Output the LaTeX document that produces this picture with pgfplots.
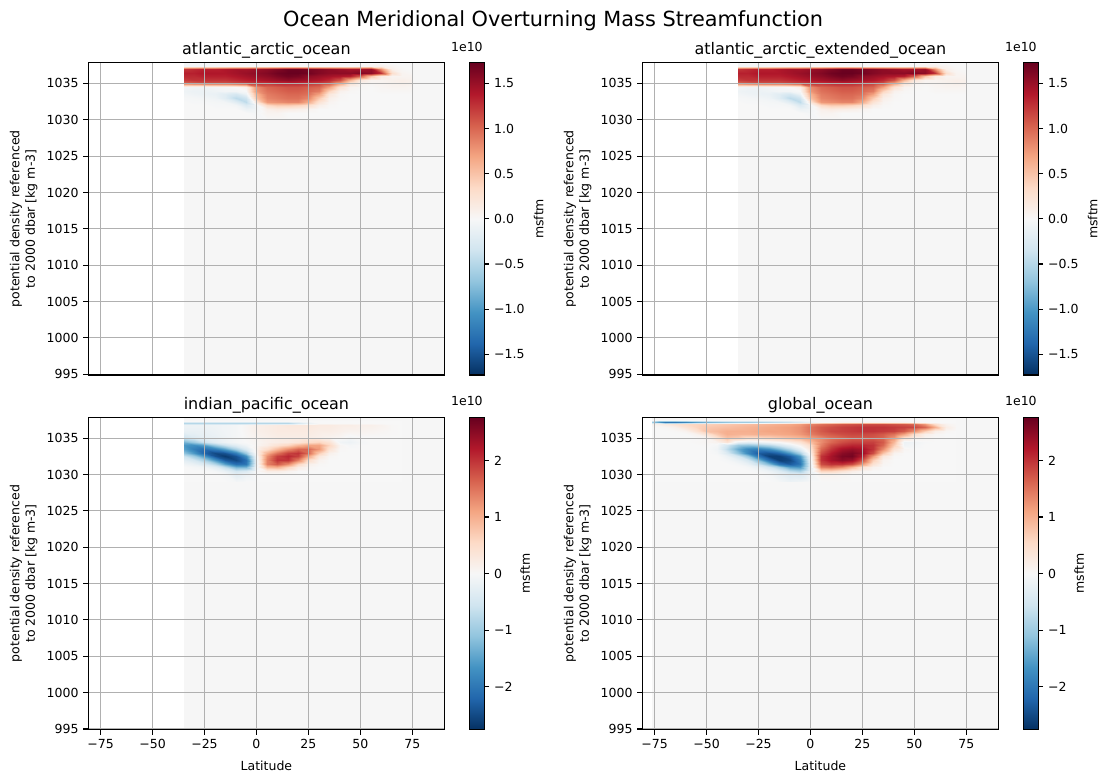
\documentclass[border=0pt]{standalone}
\usepackage{fontspec}
\setmainfont{DejaVu Sans}
\usepackage{pgfplots}
\usepackage{pgfplotstable}
\pgfplotsset{compat=1.18}
\definecolor{bggray}{RGB}{246,246,246}
\definecolor{gridgray}{RGB}{176,176,176}
\pgfplotsset{
  colormap={rdbu}{rgb255=(5,48,97) rgb255=(33,102,172) rgb255=(67,147,195) rgb255=(146,197,222) rgb255=(209,229,240) rgb255=(247,247,247) rgb255=(253,219,199) rgb255=(244,165,130) rgb255=(214,96,77) rgb255=(178,24,43) rgb255=(103,0,31)},
}
% Atlantic (used for atlantic_arctic and atlantic_arctic_extended)
\pgfplotstableread[row sep=\\]{x y z\\
-35 1030 0\\-30 1030 0\\-25 1030 0\\-20 1030 0\\-15 1030 0\\-10 1030 0\\-5 1030 0\\0 1030 0\\5 1030 0\\10 1030 0\\15 1030 0\\20 1030 0\\25 1030 0\\30 1030 0\\35 1030 0\\40 1030 0\\45 1030 0\\50 1030 0\\55 1030 0\\60 1030 0\\65 1030 0\\70 1030 0\\75 1030 0\\
-35 1031 0\\-30 1031 0\\-25 1031 0\\-20 1031 0\\-15 1031 0\\-10 1031 0\\-5 1031 0\\0 1031 -0.03\\5 1031 0.05\\10 1031 0.05\\15 1031 0\\20 1031 0\\25 1031 0\\30 1031 0\\35 1031 0\\40 1031 0\\45 1031 0\\50 1031 0\\55 1031 0\\60 1031 0\\65 1031 0\\70 1031 0\\75 1031 0\\
-35 1031.5 0\\-30 1031.5 0\\-25 1031.5 0\\-20 1031.5 0\\-15 1031.5 0\\-10 1031.5 0\\-5 1031.5 -0.1\\0 1031.5 -0.05\\5 1031.5 0.1\\10 1031.5 0.15\\15 1031.5 0.12\\20 1031.5 0.1\\25 1031.5 0.05\\30 1031.5 0\\35 1031.5 0\\40 1031.5 0\\45 1031.5 0\\50 1031.5 0\\55 1031.5 0\\60 1031.5 0\\65 1031.5 0\\70 1031.5 0\\75 1031.5 0\\
-35 1032 0\\-30 1032 0\\-25 1032 0\\-20 1032 -0.02\\-15 1032 -0.02\\-10 1032 -0.05\\-5 1032 -0.25\\0 1032 -0.05\\5 1032 0.35\\10 1032 0.45\\15 1032 0.45\\20 1032 0.4\\25 1032 0.3\\30 1032 0.1\\35 1032 0.02\\40 1032 0\\45 1032 0\\50 1032 0\\55 1032 0\\60 1032 0\\65 1032 0\\70 1032 0\\75 1032 0\\
-35 1032.5 0\\-30 1032.5 -0.02\\-25 1032.5 -0.02\\-20 1032.5 -0.03\\-15 1032.5 -0.05\\-10 1032.5 -0.2\\-5 1032.5 -0.45\\0 1032.5 0.2\\5 1032.5 0.75\\10 1032.5 0.8\\15 1032.5 0.85\\20 1032.5 0.85\\25 1032.5 0.65\\30 1032.5 0.25\\35 1032.5 0.05\\40 1032.5 0\\45 1032.5 0\\50 1032.5 0\\55 1032.5 0\\60 1032.5 0\\65 1032.5 0\\70 1032.5 0\\75 1032.5 0\\
-35 1033 -0.02\\-30 1033 -0.03\\-25 1033 -0.05\\-20 1033 -0.08\\-15 1033 -0.2\\-10 1033 -0.45\\-5 1033 -0.35\\0 1033 0.5\\5 1033 0.85\\10 1033 0.9\\15 1033 0.95\\20 1033 0.95\\25 1033 0.85\\30 1033 0.45\\35 1033 0.1\\40 1033 0.02\\45 1033 0\\50 1033 0\\55 1033 0\\60 1033 0\\65 1033 0\\70 1033 0\\75 1033 0\\
-35 1033.5 -0.05\\-30 1033.5 -0.08\\-25 1033.5 -0.1\\-20 1033.5 -0.12\\-15 1033.5 -0.2\\-10 1033.5 -0.3\\-5 1033.5 -0.1\\0 1033.5 0.6\\5 1033.5 0.9\\10 1033.5 0.95\\15 1033.5 1\\20 1033.5 1\\25 1033.5 0.95\\30 1033.5 0.7\\35 1033.5 0.2\\40 1033.5 0.03\\45 1033.5 0\\50 1033.5 0\\55 1033.5 0\\60 1033.5 0\\65 1033.5 0\\70 1033.5 0\\75 1033.5 0\\
-35 1034 -0.08\\-30 1034 -0.1\\-25 1034 -0.1\\-20 1034 -0.08\\-15 1034 -0.05\\-10 1034 -0.05\\-5 1034 0\\0 1034 0.75\\5 1034 0.95\\10 1034 1\\15 1034 1.05\\20 1034 1.05\\25 1034 1\\30 1034 0.9\\35 1034 0.4\\40 1034 0.08\\45 1034 0.02\\50 1034 0\\55 1034 0\\60 1034 0.02\\65 1034 0.02\\70 1034 0.02\\75 1034 0.02\\
-35 1034.5 -0.05\\-30 1034.5 -0.08\\-25 1034.5 -0.08\\-20 1034.5 -0.05\\-15 1034.5 -0.03\\-10 1034.5 0\\-5 1034.5 0.1\\0 1034.5 0.8\\5 1034.5 1\\10 1034.5 1.05\\15 1034.5 1.1\\20 1034.5 1.1\\25 1034.5 1.05\\30 1034.5 1\\35 1034.5 0.7\\40 1034.5 0.25\\45 1034.5 0.05\\50 1034.5 0.02\\55 1034.5 0\\60 1034.5 0.03\\65 1034.5 0.05\\70 1034.5 0.05\\75 1034.5 0.03\\
-35 1035 1.0\\-30 1035 1.05\\-25 1035 1.1\\-20 1035 1.1\\-15 1035 1.1\\-10 1035 1.15\\-5 1035 1.2\\0 1035 1.25\\5 1035 1.25\\10 1035 1.3\\15 1035 1.3\\20 1035 1.3\\25 1035 1.25\\30 1035 1.2\\35 1035 1.1\\40 1035 0.7\\45 1035 0.25\\50 1035 0.05\\55 1035 0.03\\60 1035 0.05\\65 1035 0.08\\70 1035 0.1\\75 1035 0.08\\
-35 1035.5 1.2\\-30 1035.5 1.25\\-25 1035.5 1.25\\-20 1035.5 1.25\\-15 1035.5 1.25\\-10 1035.5 1.3\\-5 1035.5 1.35\\0 1035.5 1.4\\5 1035.5 1.45\\10 1035.5 1.5\\15 1035.5 1.55\\20 1035.5 1.5\\25 1035.5 1.45\\30 1035.5 1.4\\35 1035.5 1.3\\40 1035.5 1.1\\45 1035.5 0.6\\50 1035.5 0.2\\55 1035.5 0.05\\60 1035.5 0.05\\65 1035.5 0.08\\70 1035.5 0.1\\75 1035.5 0.08\\
-35 1036 1.3\\-30 1036 1.3\\-25 1036 1.35\\-20 1036 1.35\\-15 1036 1.35\\-10 1036 1.4\\-5 1036 1.45\\0 1036 1.5\\5 1036 1.55\\10 1036 1.62\\15 1036 1.68\\20 1036 1.65\\25 1036 1.55\\30 1036 1.5\\35 1036 1.45\\40 1036 1.4\\45 1036 1.35\\50 1036 1.05\\55 1036 0.5\\60 1036 0.15\\65 1036 0.05\\70 1036 0.05\\75 1036 0.05\\
-35 1036.5 1.35\\-30 1036.5 1.35\\-25 1036.5 1.4\\-20 1036.5 1.4\\-15 1036.5 1.4\\-10 1036.5 1.45\\-5 1036.5 1.5\\0 1036.5 1.55\\5 1036.5 1.6\\10 1036.5 1.68\\15 1036.5 1.72\\20 1036.5 1.72\\25 1036.5 1.68\\30 1036.5 1.6\\35 1036.5 1.55\\40 1036.5 1.55\\45 1036.5 1.55\\50 1036.5 1.6\\55 1036.5 1.55\\60 1036.5 1.25\\65 1036.5 0.3\\70 1036.5 0.05\\75 1036.5 0.02\\
-35 1037 1.25\\-30 1037 1.3\\-25 1037 1.35\\-20 1037 1.35\\-15 1037 1.4\\-10 1037 1.45\\-5 1037 1.45\\0 1037 1.5\\5 1037 1.55\\10 1037 1.62\\15 1037 1.7\\20 1037 1.7\\25 1037 1.65\\30 1037 1.6\\35 1037 1.55\\40 1037 1.5\\45 1037 1.45\\50 1037 1.45\\55 1037 1.5\\60 1037 0.8\\65 1037 0.1\\70 1037 0.02\\75 1037 0\\
-35 1037.4 -0.05\\-30 1037.4 -0.05\\-25 1037.4 -0.05\\-20 1037.4 -0.03\\-15 1037.4 -0.02\\-10 1037.4 0\\-5 1037.4 0\\0 1037.4 0\\5 1037.4 0\\10 1037.4 0\\15 1037.4 0\\20 1037.4 0\\25 1037.4 0\\30 1037.4 0\\35 1037.4 0\\40 1037.4 0\\45 1037.4 0\\50 1037.4 0.02\\55 1037.4 0.05\\60 1037.4 0.1\\65 1037.4 0.05\\70 1037.4 0\\75 1037.4 0\\
-35 1037.85 -0.03\\-30 1037.85 -0.03\\-25 1037.85 -0.03\\-20 1037.85 -0.02\\-15 1037.85 0\\-10 1037.85 0\\-5 1037.85 0\\0 1037.85 0\\5 1037.85 0\\10 1037.85 0\\15 1037.85 0\\20 1037.85 0\\25 1037.85 0\\30 1037.85 0\\35 1037.85 0\\40 1037.85 0\\45 1037.85 0\\50 1037.85 0\\55 1037.85 0\\60 1037.85 0\\65 1037.85 0\\70 1037.85 0\\75 1037.85 0\\
}\tblA
% Indian-Pacific
\pgfplotstableread[row sep=\\]{x y z\\
-35 1029 0\\-30 1029 0\\-25 1029 0\\-20 1029 0\\-15 1029 0\\-10 1029 -0.05\\-5 1029 0\\0 1029 0\\5 1029 0\\10 1029 0\\15 1029 0\\20 1029 0\\25 1029 0\\30 1029 0\\35 1029 0\\40 1029 0\\45 1029 0\\50 1029 0\\55 1029 0\\60 1029 0\\65 1029 0\\70 1029 0\\
-35 1030 0\\-30 1030 0\\-25 1030 0\\-20 1030 0\\-15 1030 -0.05\\-10 1030 -0.3\\-5 1030 -0.15\\0 1030 0\\5 1030 0\\10 1030 0\\15 1030 0\\20 1030 0\\25 1030 0\\30 1030 0\\35 1030 0\\40 1030 0\\45 1030 0\\50 1030 0\\55 1030 0\\60 1030 0\\65 1030 0\\70 1030 0\\
-35 1030.5 0\\-30 1030.5 0\\-25 1030.5 0\\-20 1030.5 -0.05\\-15 1030.5 -0.2\\-10 1030.5 -0.5\\-5 1030.5 -0.4\\0 1030.5 0\\5 1030.5 0.2\\10 1030.5 0.2\\15 1030.5 0.1\\20 1030.5 0\\25 1030.5 0\\30 1030.5 0\\35 1030.5 0\\40 1030.5 0\\45 1030.5 0\\50 1030.5 0\\55 1030.5 0\\60 1030.5 0\\65 1030.5 0\\70 1030.5 0\\
-35 1031 0\\-30 1031 -0.05\\-25 1031 -0.1\\-20 1031 -0.3\\-15 1031 -0.7\\-10 1031 -1.3\\-5 1031 -1.3\\0 1031 -0.1\\5 1031 0.9\\10 1031 1\\15 1031 0.6\\20 1031 0.2\\25 1031 0.05\\30 1031 0\\35 1031 0\\40 1031 0\\45 1031 0\\50 1031 0\\55 1031 0\\60 1031 0\\65 1031 0\\70 1031 0\\
-35 1031.5 -0.1\\-30 1031.5 -0.2\\-25 1031.5 -0.4\\-20 1031.5 -0.8\\-15 1031.5 -1.5\\-10 1031.5 -2.1\\-5 1031.5 -2\\0 1031.5 -0.2\\5 1031.5 1.4\\10 1031.5 1.7\\15 1031.5 1.3\\20 1031.5 0.6\\25 1031.5 0.15\\30 1031.5 0.03\\35 1031.5 0\\40 1031.5 0\\45 1031.5 0\\50 1031.5 0\\55 1031.5 0\\60 1031.5 0\\65 1031.5 0\\70 1031.5 0\\
-35 1032 -0.3\\-30 1032 -0.5\\-25 1032 -0.9\\-20 1032 -1.6\\-15 1032 -2.3\\-10 1032 -2.5\\-5 1032 -2.1\\0 1032 -0.2\\5 1032 1.4\\10 1032 2\\15 1032 2\\20 1032 1.4\\25 1032 0.5\\30 1032 0.1\\35 1032 0\\40 1032 0\\45 1032 0\\50 1032 0\\55 1032 0\\60 1032 0\\65 1032 0\\70 1032 0\\
-35 1032.5 -0.6\\-30 1032.5 -1\\-25 1032.5 -1.6\\-20 1032.5 -2.4\\-15 1032.5 -2.65\\-10 1032.5 -2.4\\-5 1032.5 -1.7\\0 1032.5 -0.1\\5 1032.5 1.3\\10 1032.5 1.9\\15 1032.5 2.1\\20 1032.5 1.9\\25 1032.5 1.1\\30 1032.5 0.3\\35 1032.5 0.05\\40 1032.5 0\\45 1032.5 0\\50 1032.5 0\\55 1032.5 0\\60 1032.5 0\\65 1032.5 0\\70 1032.5 0\\
-35 1033 -1.1\\-30 1033 -1.6\\-25 1033 -2.2\\-20 1033 -2.5\\-15 1033 -2.4\\-10 1033 -1.9\\-5 1033 -1\\0 1033 0.05\\5 1033 1\\10 1033 1.5\\15 1033 1.9\\20 1033 2\\25 1033 1.6\\30 1033 0.7\\35 1033 0.15\\40 1033 0\\45 1033 0\\50 1033 0\\55 1033 0\\60 1033 0\\65 1033 0\\70 1033 0\\
-35 1033.5 -1.5\\-30 1033.5 -1.9\\-25 1033.5 -2.1\\-20 1033.5 -1.9\\-15 1033.5 -1.5\\-10 1033.5 -0.9\\-5 1033.5 -0.4\\0 1033.5 0.1\\5 1033.5 0.5\\10 1033.5 0.9\\15 1033.5 1.3\\20 1033.5 1.6\\25 1033.5 1.6\\30 1033.5 1.2\\35 1033.5 0.4\\40 1033.5 0.02\\45 1033.5 0\\50 1033.5 0\\55 1033.5 0\\60 1033.5 0\\65 1033.5 0\\70 1033.5 0\\
-35 1034 -1.6\\-30 1034 -1.7\\-25 1034 -1.5\\-20 1034 -1\\-15 1034 -0.6\\-10 1034 -0.3\\-5 1034 -0.1\\0 1034 0.05\\5 1034 0.2\\10 1034 0.4\\15 1034 0.6\\20 1034 0.9\\25 1034 1.1\\30 1034 1.1\\35 1034 0.6\\40 1034 0.05\\45 1034 -0.05\\50 1034 0\\55 1034 0\\60 1034 0\\65 1034 0\\70 1034 0\\
-35 1034.5 -1.3\\-30 1034.5 -1\\-25 1034.5 -0.6\\-20 1034.5 -0.3\\-15 1034.5 -0.15\\-10 1034.5 -0.05\\-5 1034.5 0\\0 1034.5 0.05\\5 1034.5 0.15\\10 1034.5 0.2\\15 1034.5 0.25\\20 1034.5 0.35\\25 1034.5 0.5\\30 1034.5 0.6\\35 1034.5 0.4\\40 1034.5 -0.1\\45 1034.5 -0.15\\50 1034.5 -0.05\\55 1034.5 0\\60 1034.5 0\\65 1034.5 0\\70 1034.5 0\\
-35 1035.2 -0.5\\-30 1035.2 -0.35\\-25 1035.2 -0.25\\-20 1035.2 -0.2\\-15 1035.2 -0.12\\-10 1035.2 -0.05\\-5 1035.2 0.03\\0 1035.2 0.1\\5 1035.2 0.15\\10 1035.2 0.2\\15 1035.2 0.2\\20 1035.2 0.2\\25 1035.2 0.2\\30 1035.2 0.15\\35 1035.2 0.1\\40 1035.2 0.05\\45 1035.2 -0.05\\50 1035.2 0\\55 1035.2 0\\60 1035.2 0\\65 1035.2 0\\70 1035.2 0\\
-35 1036 -0.2\\-30 1036 -0.2\\-25 1036 -0.2\\-20 1036 -0.15\\-15 1036 -0.1\\-10 1036 -0.05\\-5 1036 0.05\\0 1036 0.15\\5 1036 0.2\\10 1036 0.25\\15 1036 0.25\\20 1036 0.25\\25 1036 0.25\\30 1036 0.2\\35 1036 0.2\\40 1036 0.15\\45 1036 0.1\\50 1036 0.1\\55 1036 0.08\\60 1036 0.05\\65 1036 0.02\\70 1036 0\\
-35 1036.8 -0.15\\-30 1036.8 -0.15\\-25 1036.8 -0.15\\-20 1036.8 -0.12\\-15 1036.8 -0.1\\-10 1036.8 -0.05\\-5 1036.8 0.05\\0 1036.8 0.15\\5 1036.8 0.2\\10 1036.8 0.25\\15 1036.8 0.3\\20 1036.8 0.3\\25 1036.8 0.3\\30 1036.8 0.25\\35 1036.8 0.25\\40 1036.8 0.2\\45 1036.8 0.2\\50 1036.8 0.15\\55 1036.8 0.15\\60 1036.8 0.1\\65 1036.8 0.02\\70 1036.8 0\\
-35 1037.15 -0.8\\-30 1037.15 -0.8\\-25 1037.15 -0.8\\-20 1037.15 -0.8\\-15 1037.15 -0.8\\-10 1037.15 -0.8\\-5 1037.15 -0.8\\0 1037.15 -0.8\\5 1037.15 -0.8\\10 1037.15 -0.8\\15 1037.15 -0.8\\20 1037.15 -0.5\\25 1037.15 -0.2\\30 1037.15 0\\35 1037.15 0\\40 1037.15 0\\45 1037.15 0\\50 1037.15 0\\55 1037.15 0\\60 1037.15 0\\65 1037.15 0\\70 1037.15 0\\
-35 1037.4 0\\-30 1037.4 0\\-25 1037.4 0\\-20 1037.4 0\\-15 1037.4 0\\-10 1037.4 0\\-5 1037.4 0\\0 1037.4 0\\5 1037.4 0\\10 1037.4 0\\15 1037.4 0\\20 1037.4 0\\25 1037.4 0\\30 1037.4 0\\35 1037.4 0\\40 1037.4 0\\45 1037.4 0\\50 1037.4 0\\55 1037.4 0\\60 1037.4 0\\65 1037.4 0\\70 1037.4 0\\
}\tblB
% Global
\pgfplotstableread[row sep=\\]{x y z\\
-76 1029 0\\-70 1029 0\\-65 1029 0\\-60 1029 0\\-55 1029 0\\-50 1029 0\\-45 1029 0\\-40 1029 0\\-35 1029 0\\-30 1029 0\\-25 1029 0\\-20 1029 0\\-15 1029 -0.05\\-10 1029 -0.15\\-5 1029 -0.1\\0 1029 0\\5 1029 0\\10 1029 0\\15 1029 0\\20 1029 0\\25 1029 0\\30 1029 0\\35 1029 0\\40 1029 0\\45 1029 0\\50 1029 0\\55 1029 0\\60 1029 0\\65 1029 0\\70 1029 0\\
-76 1030 0\\-70 1030 0\\-65 1030 0\\-60 1030 0\\-55 1030 0\\-50 1030 0\\-45 1030 0\\-40 1030 0\\-35 1030 0\\-30 1030 0\\-25 1030 0\\-20 1030 -0.05\\-15 1030 -0.2\\-10 1030 -0.35\\-5 1030 -0.4\\0 1030 -0.1\\5 1030 0.1\\10 1030 0.1\\15 1030 0.05\\20 1030 0\\25 1030 0\\30 1030 0\\35 1030 0\\40 1030 0\\45 1030 0\\50 1030 0\\55 1030 0\\60 1030 0\\65 1030 0\\70 1030 0\\
-76 1030.5 0\\-70 1030.5 0\\-65 1030.5 0\\-60 1030.5 0\\-55 1030.5 0\\-50 1030.5 0\\-45 1030.5 0\\-40 1030.5 0\\-35 1030.5 0\\-30 1030.5 0\\-25 1030.5 -0.05\\-20 1030.5 -0.15\\-15 1030.5 -0.35\\-10 1030.5 -0.7\\-5 1030.5 -0.9\\0 1030.5 -0.2\\5 1030.5 0.6\\10 1030.5 0.6\\15 1030.5 0.4\\20 1030.5 0.2\\25 1030.5 0.05\\30 1030.5 0\\35 1030.5 0\\40 1030.5 0\\45 1030.5 0\\50 1030.5 0\\55 1030.5 0\\60 1030.5 0\\65 1030.5 0\\70 1030.5 0\\
-76 1031 0\\-70 1031 0\\-65 1031 0\\-60 1031 0\\-55 1031 0\\-50 1031 0\\-45 1031 0\\-40 1031 0\\-35 1031 0\\-30 1031 -0.05\\-25 1031 -0.2\\-20 1031 -0.5\\-15 1031 -0.9\\-10 1031 -1.5\\-5 1031 -1.6\\0 1031 -0.3\\5 1031 1.4\\10 1031 1.5\\15 1031 1.3\\20 1031 0.9\\25 1031 0.4\\30 1031 0.1\\35 1031 0\\40 1031 0\\45 1031 0\\50 1031 0\\55 1031 0\\60 1031 0\\65 1031 0\\70 1031 0\\
-76 1031.5 0\\-70 1031.5 0\\-65 1031.5 0\\-60 1031.5 0\\-55 1031.5 0\\-50 1031.5 0\\-45 1031.5 0\\-40 1031.5 0\\-35 1031.5 -0.05\\-30 1031.5 -0.2\\-25 1031.5 -0.6\\-20 1031.5 -1.2\\-15 1031.5 -2\\-10 1031.5 -2.3\\-5 1031.5 -2\\0 1031.5 -0.3\\5 1031.5 1.8\\10 1031.5 2\\15 1031.5 2\\20 1031.5 1.8\\25 1031.5 1.2\\30 1031.5 0.4\\35 1031.5 0.05\\40 1031.5 0\\45 1031.5 0\\50 1031.5 0\\55 1031.5 0\\60 1031.5 0\\65 1031.5 0\\70 1031.5 0\\
-76 1032 0\\-70 1032 0\\-65 1032 0\\-60 1032 0\\-55 1032 0\\-50 1032 0\\-45 1032 0\\-40 1032 -0.05\\-35 1032 -0.2\\-30 1032 -0.5\\-25 1032 -1.2\\-20 1032 -2.1\\-15 1032 -2.6\\-10 1032 -2.5\\-5 1032 -1.9\\0 1032 -0.2\\5 1032 2\\10 1032 2.3\\15 1032 2.5\\20 1032 2.4\\25 1032 1.8\\30 1032 0.7\\35 1032 0.1\\40 1032 0\\45 1032 0\\50 1032 0\\55 1032 0\\60 1032 0\\65 1032 0\\70 1032 0\\
-76 1032.5 0\\-70 1032.5 0\\-65 1032.5 0\\-60 1032.5 0\\-55 1032.5 0\\-50 1032.5 0\\-45 1032.5 0\\-40 1032.5 -0.15\\-35 1032.5 -0.5\\-30 1032.5 -1.1\\-25 1032.5 -2\\-20 1032.5 -2.6\\-15 1032.5 -2.6\\-10 1032.5 -2.3\\-5 1032.5 -1.6\\0 1032.5 -0.1\\5 1032.5 2\\10 1032.5 2.3\\15 1032.5 2.6\\20 1032.5 2.65\\25 1032.5 2.2\\30 1032.5 1.2\\35 1032.5 0.3\\40 1032.5 0.02\\45 1032.5 0\\50 1032.5 0\\55 1032.5 0\\60 1032.5 0\\65 1032.5 0\\70 1032.5 0\\
-76 1033 0\\-70 1033 0\\-65 1033 0\\-60 1033 0\\-55 1033 0\\-50 1033 0\\-45 1033 -0.05\\-40 1033 -0.4\\-35 1033 -1.1\\-30 1033 -1.8\\-25 1033 -2.3\\-20 1033 -2.4\\-15 1033 -2.2\\-10 1033 -1.6\\-5 1033 -0.9\\0 1033 0.1\\5 1033 1.8\\10 1033 2.2\\15 1033 2.5\\20 1033 2.6\\25 1033 2.4\\30 1033 1.8\\35 1033 0.8\\40 1033 0.1\\45 1033 0\\50 1033 0\\55 1033 0\\60 1033 0\\65 1033 0\\70 1033 0\\
-76 1033.5 0\\-70 1033.5 0\\-65 1033.5 0\\-60 1033.5 0\\-55 1033.5 0\\-50 1033.5 0\\-45 1033.5 -0.1\\-40 1033.5 -0.7\\-35 1033.5 -1.4\\-30 1033.5 -1.8\\-25 1033.5 -1.9\\-20 1033.5 -1.7\\-15 1033.5 -1.3\\-10 1033.5 -0.8\\-5 1033.5 -0.3\\0 1033.5 0.3\\5 1033.5 1.6\\10 1033.5 2\\15 1033.5 2.3\\20 1033.5 2.4\\25 1033.5 2.3\\30 1033.5 2\\35 1033.5 1.3\\40 1033.5 0.4\\45 1033.5 0.05\\50 1033.5 0\\55 1033.5 0\\60 1033.5 0\\65 1033.5 0\\70 1033.5 0\\
-76 1034 0\\-70 1034 0\\-65 1034 0\\-60 1034 0\\-55 1034 0\\-50 1034 0.02\\-45 1034 -0.05\\-40 1034 -0.5\\-35 1034 -1\\-30 1034 -1.1\\-25 1034 -1\\-20 1034 -0.8\\-15 1034 -0.5\\-10 1034 -0.2\\-5 1034 0.1\\0 1034 0.5\\5 1034 1.4\\10 1034 1.8\\15 1034 2\\20 1034 2.1\\25 1034 2.1\\30 1034 2\\35 1034 1.6\\40 1034 0.7\\45 1034 -0.1\\50 1034 -0.05\\55 1034 0\\60 1034 0\\65 1034 0\\70 1034 0\\
-76 1034.5 0\\-70 1034.5 0\\-65 1034.5 0\\-60 1034.5 0\\-55 1034.5 0.02\\-50 1034.5 0.05\\-45 1034.5 0.1\\-40 1034.5 0.4\\-35 1034.5 -0.2\\-30 1034.5 -0.3\\-25 1034.5 -0.2\\-20 1034.5 -0.1\\-15 1034.5 0\\-10 1034.5 0.2\\-5 1034.5 0.4\\0 1034.5 0.8\\5 1034.5 1.3\\10 1034.5 1.6\\15 1034.5 1.8\\20 1034.5 1.9\\25 1034.5 1.9\\30 1034.5 1.9\\35 1034.5 1.7\\40 1034.5 0.9\\45 1034.5 -0.15\\50 1034.5 -0.1\\55 1034.5 -0.02\\60 1034.5 0\\65 1034.5 0\\70 1034.5 0\\
-76 1035 0\\-70 1035 0\\-65 1035 0\\-60 1035 0\\-55 1035 0\\-50 1035 0.05\\-45 1035 0.4\\-40 1035 0.8\\-35 1035 0.7\\-30 1035 0.5\\-25 1035 0.5\\-20 1035 0.6\\-15 1035 0.7\\-10 1035 0.8\\-5 1035 0.9\\0 1035 1.1\\5 1035 1.3\\10 1035 1.5\\15 1035 1.6\\20 1035 1.7\\25 1035 1.7\\30 1035 1.7\\35 1035 1.6\\40 1035 1.2\\45 1035 0.4\\50 1035 0.1\\55 1035 0.05\\60 1035 0\\65 1035 0\\70 1035 0\\
-76 1035.5 0\\-70 1035.5 0\\-65 1035.5 0\\-60 1035.5 0\\-55 1035.5 0.1\\-50 1035.5 0.4\\-45 1035.5 0.75\\-40 1035.5 1\\-35 1035.5 0.95\\-30 1035.5 0.95\\-25 1035.5 1\\-20 1035.5 1\\-15 1035.5 1.05\\-10 1035.5 1.1\\-5 1035.5 1.2\\0 1035.5 1.4\\5 1035.5 1.6\\10 1035.5 1.7\\15 1035.5 1.8\\20 1035.5 1.85\\25 1035.5 1.85\\30 1035.5 1.8\\35 1035.5 1.7\\40 1035.5 1.5\\45 1035.5 1.1\\50 1035.5 0.5\\55 1035.5 0.15\\60 1035.5 0.05\\65 1035.5 0\\70 1035.5 0\\
-76 1036 0\\-70 1036 0\\-65 1036 0.02\\-60 1036 0.1\\-55 1036 0.4\\-50 1036 0.8\\-45 1036 0.9\\-40 1036 1\\-35 1036 1\\-30 1036 1\\-25 1036 1.05\\-20 1036 1.1\\-15 1036 1.1\\-10 1036 1.15\\-5 1036 1.25\\0 1036 1.5\\5 1036 1.7\\10 1036 1.85\\15 1036 1.9\\20 1036 1.95\\25 1036 2\\30 1036 2\\35 1036 1.95\\40 1036 1.9\\45 1036 1.7\\50 1036 1.3\\55 1036 0.7\\60 1036 0.2\\65 1036 0.05\\70 1036 0\\
-76 1036.6 0\\-70 1036.6 0.05\\-65 1036.6 0.15\\-60 1036.6 0.4\\-55 1036.6 0.6\\-50 1036.6 0.75\\-45 1036.6 0.8\\-40 1036.6 0.85\\-35 1036.6 0.9\\-30 1036.6 0.95\\-25 1036.6 1\\-20 1036.6 1.05\\-15 1036.6 1.1\\-10 1036.6 1.15\\-5 1036.6 1.25\\0 1036.6 1.5\\5 1036.6 1.7\\10 1036.6 1.8\\15 1036.6 1.9\\20 1036.6 1.95\\25 1036.6 2\\30 1036.6 2\\35 1036.6 2\\40 1036.6 1.95\\45 1036.6 1.9\\50 1036.6 1.85\\55 1036.6 1.6\\60 1036.6 1\\65 1036.6 0.2\\70 1036.6 0.05\\
-76 1037 0.1\\-70 1037 0.25\\-65 1037 0.4\\-60 1037 0.55\\-55 1037 0.6\\-50 1037 0.65\\-45 1037 0.7\\-40 1037 0.75\\-35 1037 0.8\\-30 1037 0.85\\-25 1037 0.9\\-20 1037 0.95\\-15 1037 1\\-10 1037 1.05\\-5 1037 1.15\\0 1037 1.35\\5 1037 1.5\\10 1037 1.6\\15 1037 1.7\\20 1037 1.75\\25 1037 1.8\\30 1037 1.8\\35 1037 1.8\\40 1037 1.75\\45 1037 1.7\\50 1037 1.6\\55 1037 1.2\\60 1037 0.5\\65 1037 0.1\\70 1037 0.02\\
-76 1037.25 -1\\-70 1037.25 -2\\-65 1037.25 -2\\-60 1037.25 -1.8\\-55 1037.25 -1.5\\-50 1037.25 -1.3\\-45 1037.25 -1.2\\-40 1037.25 -1.1\\-35 1037.25 -1\\-30 1037.25 -1\\-25 1037.25 -0.9\\-20 1037.25 -0.8\\-15 1037.25 -0.7\\-10 1037.25 -0.6\\-5 1037.25 -0.4\\0 1037.25 -0.2\\5 1037.25 0\\10 1037.25 0\\15 1037.25 0.1\\20 1037.25 0.1\\25 1037.25 0.1\\30 1037.25 0.1\\35 1037.25 0.1\\40 1037.25 0.1\\45 1037.25 0.1\\50 1037.25 0.05\\55 1037.25 0.02\\60 1037.25 0\\65 1037.25 0\\70 1037.25 0\\
-76 1037.5 0\\-70 1037.5 0\\-65 1037.5 0\\-60 1037.5 0\\-55 1037.5 0\\-50 1037.5 0\\-45 1037.5 0\\-40 1037.5 0\\-35 1037.5 0\\-30 1037.5 0\\-25 1037.5 0\\-20 1037.5 0\\-15 1037.5 0\\-10 1037.5 0\\-5 1037.5 0\\0 1037.5 0\\5 1037.5 0\\10 1037.5 0\\15 1037.5 0\\20 1037.5 0\\25 1037.5 0\\30 1037.5 0\\35 1037.5 0\\40 1037.5 0\\45 1037.5 0\\50 1037.5 0\\55 1037.5 0\\60 1037.5 0\\65 1037.5 0\\70 1037.5 0\\
}\tblC

\newcommand\tickfont{\fontsize{9}{10.8}\selectfont}
\pgfplotsset{
  panel/.style={
    scale only axis, width=256.46pt, height=224.86pt,
    xmin=-80.9, xmax=90.5, ymin=994.9, ymax=1037.85,
    axis on top,
    xtick={-75,-50,-25,0,25,50,75},
    ytick={995,1000,1005,1010,1015,1020,1025,1030,1035},
    /pgf/number format/1000 sep={},
    /pgf/number format/assume math mode=true,
    tick label style={font=\tickfont},
    label style={font=\tickfont},
    grid=major, major grid style={gridgray, line width=0.8pt},
    axis line style={line width=0.8pt},
    tick style={black, line width=0.8pt},
    major tick length=3.5pt, tick align=outside,
    xtick pos=bottom, ytick pos=left,
    ylabel={potential density referenced\\to 2000 dbar [kg m-3]},
    ylabel style={align=center, font=\fontsize{9}{11.1}\selectfont, at={(axis description cs:-0.1814,0.5)}, anchor=center},
    title style={at={(0.5,1)}, anchor=base, yshift=0pt, font=\fontsize{11.5}{13}\selectfont},
    colormap name=rdbu,
    colorbar,
    colorbar style={
      scale only axis, width=10.8pt,
      at={(parent axis.north east)}, anchor=north west, xshift=9.36pt,
      tick align=outside, major tick length=3.5pt,
      ytick pos=right, yticklabel pos=right,
      tick style={black, line width=0.8pt},
      axis line style={line width=0.8pt},
      yticklabel style={font=\tickfont},
      ylabel={msftm},
      ylabel style={font=\tickfont, anchor=center},
      title={1e10},
      title style={at={(1,1)}, anchor=south east, yshift=1pt, font=\tickfont, inner sep=1pt},
    },
  },
  toppanel/.style={
    xticklabels={}, xtick style={draw=none},
    point meta min=-1.73, point meta max=1.73,
    colorbar style={ytick={-1.5,-1,-0.5,0,0.5,1,1.5}, yticklabels={−1.5,−1.0,−0.5,0.0,0.5,1.0,1.5},
      ylabel style={at={(axis description cs:4.63,0.5)}}},
  },
  botpanel/.style={
    xticklabels={−75,−50,−25,0,25,50,75},
    xlabel={Latitude},
    xlabel style={at={(axis description cs:0.5,-0.129)}, anchor=base},
    point meta min=-2.76, point meta max=2.76,
    colorbar style={ytick={-2,-1,0,1,2}, yticklabels={−2,−1,0,1,2},
      ylabel style={at={(axis description cs:3.73,0.5)}}},
  },
}

\begin{document}
\begin{tikzpicture}
\useasboundingbox (0,0) rectangle (796.32pt,563.04pt);
\node[anchor=base, font=\fontsize{15}{18}\selectfont] at (398.2pt,543.8pt) {Ocean Meridional Overturning Mass Streamfunction};

\begin{axis}[panel, toppanel, at={(63.58pt,517.9pt)}, anchor=north west, title={atlantic\_arctic\_ocean}]
\addplot[fill=bggray, draw=none, forget plot] coordinates {(-35,994.9) (90.5,994.9) (90.5,1037.85) (-35,1037.85)} -- cycle;
\addplot[surf, shader=interp, mesh/cols=23, point meta=\thisrow{z}] table[x=x,y=y] {\tblA};
\end{axis}

\begin{axis}[panel, toppanel, at={(462.46pt,517.9pt)}, anchor=north west, title={atlantic\_arctic\_extended\_ocean}]
\addplot[fill=bggray, draw=none, forget plot] coordinates {(-35,994.9) (90.5,994.9) (90.5,1037.85) (-35,1037.85)} -- cycle;
\addplot[surf, shader=interp, mesh/cols=23, point meta=\thisrow{z}] table[x=x,y=y] {\tblA};
\end{axis}

\begin{axis}[panel, botpanel, at={(63.58pt,262.51pt)}, anchor=north west, title={indian\_pacific\_ocean}]
\addplot[fill=bggray, draw=none, forget plot] coordinates {(-35,994.9) (90.5,994.9) (90.5,1037.85) (-35,1037.85)} -- cycle;
\addplot[surf, shader=interp, mesh/cols=22, point meta=\thisrow{z}] table[x=x,y=y] {\tblB};
\end{axis}

\begin{axis}[panel, botpanel, at={(462.46pt,262.51pt)}, anchor=north west, title={global\_ocean}]
\addplot[fill=bggray, draw=none, forget plot] coordinates {(-76.4,994.9) (90.5,994.9) (90.5,1037.85) (-76.4,1037.85)} -- cycle;
\addplot[surf, shader=interp, mesh/cols=30, point meta=\thisrow{z}] table[x=x,y=y] {\tblC};
\end{axis}
\end{tikzpicture}
\end{document}
